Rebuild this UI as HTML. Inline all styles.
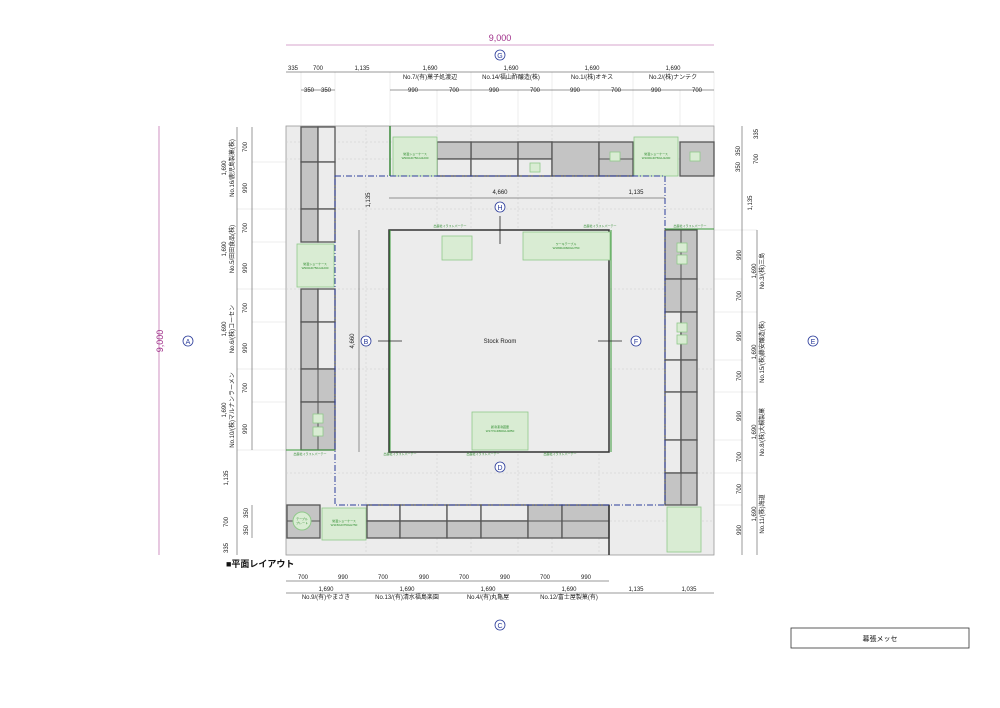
<!DOCTYPE html>
<html><head><meta charset="utf-8"><style>
body{margin:0;background:#fff}
svg{display:block;font-family:"Liberation Sans","Noto Sans CJK JP",sans-serif}
.d{font-size:6px;fill:#222;text-anchor:middle}
.g{fill:#d9ecd3;stroke:#8fc98a;stroke-width:.8}
.gt{font-size:3px;fill:#2a8a2a;text-anchor:middle}
.dk{fill:#c4c4c4;stroke:#555;stroke-width:1.3}
.lt{fill:#ececec;stroke:#555;stroke-width:1.3}
.mk{fill:#fff;stroke:#2a3b9a;stroke-width:.8}
.mt{font-size:7px;fill:#2a3b9a;text-anchor:middle}
</style></head><body>
<svg width="1000" height="708" viewBox="0 0 1000 708">
<!-- extension guides -->
<g stroke="#ddd" stroke-width=".5">
<line x1="301" y1="72" x2="301" y2="126"/><line x1="335" y1="72" x2="335" y2="126"/><line x1="390" y1="72" x2="390" y2="126"/>
<line x1="437" y1="90" x2="437" y2="126"/><line x1="471" y1="72" x2="471" y2="126"/><line x1="518" y1="90" x2="518" y2="126"/>
<line x1="552" y1="72" x2="552" y2="126"/><line x1="599" y1="90" x2="599" y2="126"/><line x1="633" y1="72" x2="633" y2="126"/>
<line x1="680" y1="90" x2="680" y2="126"/><line x1="714" y1="72" x2="714" y2="126"/>
<line x1="252" y1="162" x2="286" y2="162"/><line x1="237" y1="209" x2="286" y2="209"/><line x1="252" y1="242" x2="286" y2="242"/>
<line x1="237" y1="289" x2="286" y2="289"/><line x1="252" y1="322" x2="286" y2="322"/><line x1="237" y1="369" x2="286" y2="369"/>
<line x1="252" y1="402" x2="286" y2="402"/><line x1="237" y1="450" x2="286" y2="450"/>
<line x1="714" y1="230" x2="757" y2="230"/><line x1="714" y1="279" x2="742" y2="279"/><line x1="714" y1="312" x2="757" y2="312"/>
<line x1="714" y1="360" x2="742" y2="360"/><line x1="714" y1="392" x2="757" y2="392"/><line x1="714" y1="440" x2="742" y2="440"/>
<line x1="714" y1="473" x2="757" y2="473"/><line x1="714" y1="505" x2="742" y2="505"/>
</g>
<!-- floor -->
<rect x="286" y="126" width="428" height="429" fill="#ececec" stroke="#999" stroke-width=".8"/>
<g stroke="#ccc" stroke-width=".5" stroke-dasharray="2,2">
<line x1="286" y1="142" x2="714" y2="142"/><line x1="286" y1="159" x2="714" y2="159"/>
<line x1="286" y1="209" x2="714" y2="209"/><line x1="286" y1="289" x2="714" y2="289"/>
<line x1="286" y1="369" x2="714" y2="369"/><line x1="286" y1="473" x2="714" y2="473"/>
<line x1="286" y1="521" x2="714" y2="521"/>
<line x1="437" y1="126" x2="437" y2="555"/><line x1="471" y1="126" x2="471" y2="555"/>
<line x1="518" y1="126" x2="518" y2="555"/><line x1="552" y1="126" x2="552" y2="555"/>
<line x1="599" y1="126" x2="599" y2="555"/><line x1="366" y1="126" x2="366" y2="555"/>
</g>
<!-- top row booths -->
<rect class="dk" x="471" y="142" width="81" height="17"/>
<rect class="dk" x="437" y="142" width="34" height="17"/>
<rect class="lt" x="437" y="159" width="34" height="17"/>
<rect class="lt" x="471" y="159" width="47" height="17"/>
<rect class="dk" x="518" y="142" width="34" height="17"/>
<rect class="lt" x="518" y="159" width="34" height="17"/>
<rect class="dk" x="552" y="142" width="47" height="34"/>
<rect class="dk" x="599" y="142" width="34" height="34"/>
<line x1="599" y1="159" x2="633" y2="159" stroke="#555"/>
<rect class="dk" x="680" y="142" width="34" height="34"/>
<rect class="g" x="393" y="137" width="44" height="39"/>
<text class="gt" x="415" y="155">常温ショーケース</text><text class="gt" x="415" y="159">W900xD750xH1200</text>
<rect class="g" x="634" y="137" width="44" height="39"/>
<text class="gt" x="656" y="155">常温ショーケース</text><text class="gt" x="656" y="159">W1000xD750xH1200</text>
<rect class="g" x="530" y="163" width="10" height="9"/><rect class="g" x="610" y="152" width="10" height="9"/><rect class="g" x="690" y="152" width="10" height="9"/>
<line x1="390" y1="126" x2="390" y2="176" stroke="#3a8a3a" stroke-width="1.5"/>
<!-- left column -->
<rect class="dk" x="301" y="127" width="17" height="35"/><rect class="lt" x="318" y="127" width="17" height="35"/>
<rect class="dk" x="301" y="162" width="17" height="47"/><rect class="lt" x="318" y="162" width="17" height="47"/>
<rect class="dk" x="301" y="209" width="17" height="33"/><rect class="lt" x="318" y="209" width="17" height="33"/>
<rect class="g" x="297" y="244" width="37" height="43"/>
<text class="gt" x="315" y="265">常温ショーケース</text><text class="gt" x="315" y="269">W900xD750xH1200</text>
<rect class="dk" x="301" y="289" width="17" height="33"/><rect class="lt" x="318" y="289" width="17" height="33"/>
<rect class="dk" x="301" y="322" width="17" height="47"/><rect class="lt" x="318" y="322" width="17" height="47"/>
<rect class="dk" x="301" y="369" width="34" height="33"/><line x1="318" y1="369" x2="318" y2="402" stroke="#555"/>
<rect class="dk" x="301" y="402" width="34" height="48"/><line x1="318" y1="402" x2="318" y2="450" stroke="#555"/>
<rect class="g" x="313" y="414" width="10" height="9"/><rect class="g" x="313" y="427" width="10" height="9"/>
<!-- right column -->
<rect class="dk" x="665" y="230" width="32" height="49"/><line x1="681" y1="230" x2="681" y2="279" stroke="#555"/>
<rect class="dk" x="665" y="279" width="32" height="33"/><line x1="681" y1="279" x2="681" y2="312" stroke="#555"/>
<rect class="lt" x="665" y="312" width="16" height="48"/><rect class="dk" x="681" y="312" width="16" height="48"/>
<rect class="lt" x="665" y="360" width="16" height="32"/><rect class="dk" x="681" y="360" width="16" height="32"/>
<rect class="lt" x="665" y="392" width="16" height="48"/><rect class="dk" x="681" y="392" width="16" height="48"/>
<rect class="lt" x="665" y="440" width="16" height="33"/><rect class="dk" x="681" y="440" width="16" height="33"/>
<rect class="dk" x="665" y="473" width="32" height="32"/><line x1="681" y1="473" x2="681" y2="505" stroke="#555"/>
<rect class="g" x="677" y="243" width="10" height="9"/><rect class="g" x="677" y="255" width="10" height="9"/>
<rect class="g" x="677" y="323" width="10" height="9"/><rect class="g" x="677" y="335" width="10" height="9"/>
<rect class="g" x="667" y="507" width="34" height="45"/>
<!-- bottom row -->
<rect class="dk" x="287" y="505" width="33" height="33"/><line x1="287" y1="521" x2="320" y2="521" stroke="#555"/>
<circle cx="302" cy="521" r="9" fill="#d9ecd3" stroke="#8fc98a"/><text class="gt" x="302" y="520">テーブル</text><text class="gt" x="302" y="524">プレート</text>
<rect class="g" x="322" y="508" width="44" height="32"/>
<text class="gt" x="344" y="522">常温ショーケース</text><text class="gt" x="344" y="526">W1150xD750xH750</text>
<rect class="lt" x="367" y="505" width="33" height="16"/><rect class="dk" x="367" y="521" width="33" height="17"/>
<rect class="lt" x="400" y="505" width="47" height="16"/><rect class="dk" x="400" y="521" width="47" height="17"/>
<rect class="lt" x="447" y="505" width="34" height="16"/><rect class="dk" x="447" y="521" width="34" height="17"/>
<rect class="lt" x="481" y="505" width="47" height="16"/><rect class="dk" x="481" y="521" width="47" height="17"/>
<rect class="dk" x="528" y="505" width="34" height="33"/><line x1="528" y1="521" x2="562" y2="521" stroke="#555"/>
<rect class="dk" x="562" y="505" width="47" height="33"/><line x1="562" y1="521" x2="609" y2="521" stroke="#555"/>
<line x1="609" y1="505" x2="609" y2="555" stroke="#333" stroke-width="1.5"/>
<!-- blue dash -->
<path d="M335 176 H665 V505 H335 Z" fill="none" stroke="#2a3b9a" stroke-width="1" stroke-dasharray="6,2,1,2"/>
<!-- stock room -->
<rect x="389" y="230" width="220" height="222" fill="#ececec" stroke="#333" stroke-width="1.5"/>
<rect class="g" x="523" y="232" width="87" height="28"/>
<text class="gt" x="566" y="245">ワーキテーブル</text><text class="gt" x="566" y="249">W1800xD600xH750</text>
<rect class="g" x="442" y="236" width="30" height="24"/>
<rect class="g" x="472" y="412" width="56" height="38"/>
<text class="gt" x="500" y="428">新冷凍冷蔵庫</text><text class="gt" x="500" y="432">W1770xD800xH1850</text>
<text x="500" y="343" font-size="6" text-anchor="middle" fill="#222">Stock Room</text>
<g stroke="#3a9a3a" stroke-width="1"><line x1="286" y1="450" x2="335" y2="450"/><line x1="390" y1="230" x2="390" y2="452"/><line x1="611" y1="230" x2="611" y2="452"/><line x1="665" y1="229" x2="714" y2="229"/></g>
<g font-size="3" fill="#2a8a2a" text-anchor="middle"><text x="310" y="455">出展社イラストパーテー</text><text x="400" y="455">出展社イラストパーテー</text><text x="483" y="455">出展社イラストパーテー</text><text x="560" y="455">出展社イラストパーテー</text><text x="450" y="227">出展社イラストパーテー</text><text x="600" y="227">出展社イラストパーテー</text><text x="690" y="227">出展社イラストパーテー</text></g>
<!-- arrows -->
<g stroke="#222" stroke-width=".8"><line x1="378" y1="341" x2="402" y2="341"/><line x1="598" y1="341" x2="622" y2="341"/><line x1="500" y1="216" x2="500" y2="244"/></g>
<!-- inner dims -->
<g stroke="#333" stroke-width=".5"><line x1="389" y1="198" x2="609" y2="198"/><line x1="609" y1="198" x2="665" y2="198"/><line x1="359" y1="230" x2="359" y2="452"/></g>
<text class="d" x="500" y="194">4,660</text><text class="d" x="636" y="194">1,135</text>
<text class="d" transform="translate(354,341) rotate(-90)">4,660</text>
<text class="d" transform="translate(370,200) rotate(-90)">1,135</text>
<!-- overall -->
<line x1="286" y1="45" x2="714" y2="45" stroke="#b04a9a" stroke-width=".6"/>
<text x="500" y="41" font-size="9" fill="#a0308a" text-anchor="middle">9,000</text>
<line x1="159" y1="126" x2="159" y2="555" stroke="#b04a9a" stroke-width=".6"/>
<text font-size="9" fill="#a0308a" text-anchor="middle" transform="translate(163,341) rotate(-90)">9,000</text>
<!-- top dims -->
<g stroke="#333" stroke-width=".5"><line x1="286" y1="72" x2="714" y2="72"/><line x1="301" y1="90" x2="335" y2="90"/><line x1="390" y1="90" x2="714" y2="90"/></g>
<g class="d"><text x="293" y="70">335</text><text x="318" y="70">700</text><text x="362" y="70">1,135</text>
<text x="430" y="70">1,690</text><text x="511" y="70">1,690</text><text x="592" y="70">1,690</text><text x="673" y="70">1,690</text>
<text x="430" y="79">No.7/(有)菓子処渡辺</text><text x="511" y="79">No.14/福山酢醸造(株)</text><text x="592" y="79">No.1/(株)オキス</text><text x="673" y="79">No.2/(株)ナンテク</text>
<text x="309" y="92">350</text><text x="326" y="92">350</text>
<text x="413" y="92">990</text><text x="454" y="92">700</text><text x="494" y="92">990</text><text x="535" y="92">700</text><text x="575" y="92">990</text><text x="616" y="92">700</text><text x="656" y="92">990</text><text x="697" y="92">700</text></g>
<!-- left dims -->
<g stroke="#333" stroke-width=".5"><line x1="237" y1="127" x2="237" y2="555"/><line x1="252" y1="127" x2="252" y2="450"/><line x1="252" y1="505" x2="252" y2="538"/></g>
<g class="d">
<text transform="translate(247,147) rotate(-90)">700</text><text transform="translate(247,188) rotate(-90)">990</text>
<text transform="translate(247,228) rotate(-90)">700</text><text transform="translate(247,268) rotate(-90)">990</text>
<text transform="translate(247,308) rotate(-90)">700</text><text transform="translate(247,348) rotate(-90)">990</text>
<text transform="translate(247,388) rotate(-90)">700</text><text transform="translate(247,429) rotate(-90)">990</text>
<text transform="translate(226,168) rotate(-90)">1,690</text><text transform="translate(234,168) rotate(-90)">No.16/鹿児島製菓(株)</text>
<text transform="translate(226,249) rotate(-90)">1,690</text><text transform="translate(234,249) rotate(-90)">No.5/田田食品(株)</text>
<text transform="translate(226,329) rotate(-90)">1,690</text><text transform="translate(234,329) rotate(-90)">No.6/(株)コーセン</text>
<text transform="translate(226,410) rotate(-90)">1,690</text><text transform="translate(234,410) rotate(-90)">No.10/(株)マルナンラーメン</text>
<text transform="translate(228,478) rotate(-90)">1,135</text><text transform="translate(228,522) rotate(-90)">700</text><text transform="translate(228,548) rotate(-90)">335</text>
<text transform="translate(248,513) rotate(-90)">350</text><text transform="translate(248,530) rotate(-90)">350</text></g>
<!-- right dims -->
<g stroke="#333" stroke-width=".5"><line x1="742" y1="126" x2="742" y2="555"/><line x1="757" y1="230" x2="757" y2="555"/></g>
<g class="d">
<text transform="translate(758,134) rotate(-90)">335</text><text transform="translate(758,159) rotate(-90)">700</text>
<text transform="translate(740,151) rotate(-90)">350</text><text transform="translate(740,167) rotate(-90)">350</text>
<text transform="translate(752,203) rotate(-90)">1,135</text>
<text transform="translate(741,255) rotate(-90)">990</text><text transform="translate(741,296) rotate(-90)">700</text>
<text transform="translate(741,336) rotate(-90)">990</text><text transform="translate(741,376) rotate(-90)">700</text>
<text transform="translate(741,416) rotate(-90)">990</text><text transform="translate(741,457) rotate(-90)">700</text>
<text transform="translate(741,489) rotate(-90)">700</text><text transform="translate(741,530) rotate(-90)">990</text>
<text transform="translate(756,271) rotate(-90)">1,690</text><text transform="translate(764,271) rotate(-90)">No.3/(株)三島</text>
<text transform="translate(756,352) rotate(-90)">1,690</text><text transform="translate(764,352) rotate(-90)">No.15/(株)藤安醸造(株)</text>
<text transform="translate(756,432) rotate(-90)">1,690</text><text transform="translate(764,432) rotate(-90)">No.8/(株)大槻製菓</text>
<text transform="translate(756,514) rotate(-90)">1,690</text><text transform="translate(764,514) rotate(-90)">No.11/(株)海道</text></g>
<!-- bottom dims -->
<g stroke="#333" stroke-width=".5"><line x1="286" y1="581" x2="609" y2="581"/><line x1="286" y1="593" x2="714" y2="593"/></g>
<g class="d"><text x="303" y="579">700</text><text x="343" y="579">990</text><text x="383" y="579">700</text><text x="424" y="579">990</text><text x="464" y="579">700</text><text x="505" y="579">990</text><text x="545" y="579">700</text><text x="586" y="579">990</text>
<text x="326" y="591">1,690</text><text x="407" y="591">1,690</text><text x="488" y="591">1,690</text><text x="569" y="591">1,690</text><text x="636" y="591">1,135</text><text x="689" y="591">1,035</text>
<text x="326" y="599">No.9/(有)やまさき</text><text x="407" y="599">No.13/(有)清水福島楽園</text><text x="488" y="599">No.4/(有)丸亀屋</text><text x="569" y="599">No.12/富士屋製菓(有)</text></g>
<text x="226" y="567" font-size="9" font-weight="bold" fill="#111">■平面レイアウト</text>
<!-- markers -->
<g><circle class="mk" cx="500" cy="55" r="5"/><text class="mt" x="500" y="58">G</text>
<circle class="mk" cx="500" cy="207" r="5"/><text class="mt" x="500" y="210">H</text>
<circle class="mk" cx="500" cy="467" r="5"/><text class="mt" x="500" y="470">D</text>
<circle class="mk" cx="500" cy="625" r="5"/><text class="mt" x="500" y="628">C</text>
<circle class="mk" cx="188" cy="341" r="5"/><text class="mt" x="188" y="344">A</text>
<circle class="mk" cx="366" cy="341" r="5"/><text class="mt" x="366" y="344">B</text>
<circle class="mk" cx="636" cy="341" r="5"/><text class="mt" x="636" y="344">F</text>
<circle class="mk" cx="813" cy="341" r="5"/><text class="mt" x="813" y="344">E</text></g>
<rect x="791" y="628" width="178" height="20" fill="#fff" stroke="#333" stroke-width=".8"/>
<text x="880" y="641" font-size="7" text-anchor="middle" fill="#111">幕張メッセ</text>
</svg>
</body></html>
